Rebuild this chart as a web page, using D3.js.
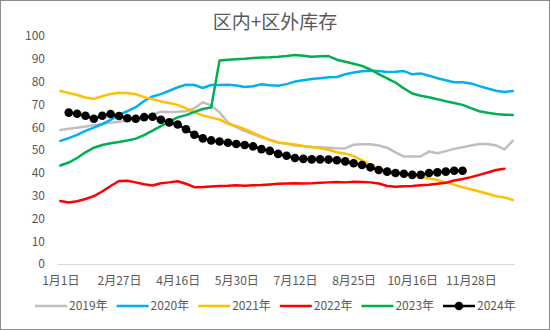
<!DOCTYPE html>
<html>
<head>
<meta charset="utf-8">
<script src="https://cdn.jsdelivr.net/npm/d3@7/dist/d3.min.js"></script>
<style>
  html, body { margin: 0; padding: 0; background: #fff; }
  svg { display: block; }
  text { font-family: "Noto Sans CJK SC", "Noto Sans", sans-serif; }
</style>
</head>
<body>
<svg id="chart" width="550" height="330"></svg>
<script>
const title = "区内+区外库存";
const tickLabels = ["1月1日", "2月27日", "4月16日", "5月30日", "7月12日", "8月25日", "10月16日", "11月28日"];
const tickEvery = 7;
const nCategories = 55;
const yTicks = [0, 10, 20, 30, 40, 50, 60, 70, 80, 90, 100];
const seriesNames = ["2019年", "2020年", "2021年", "2022年", "2023年", "2024年"];
const seriesColors = ["#BFBFBF", "#00B0F0", "#FFC000", "#FF0000", "#00B050", "#000000"];

const s2019 = [58.8,59.3,59.8,60.3,60.9,61.4,62.0,62.4,63.0,63.8,64.5,65.5,66.8,66.7,66.8,67.0,68.3,70.9,69.5,66.5,62.0,60.0,58.3,57.0,55.6,54.5,53.3,52.7,52.0,51.6,51.3,51.2,51.0,50.8,50.7,52.3,52.5,52.5,52.0,51.0,49.0,47.1,47.1,47.2,49.3,48.6,49.5,50.5,51.2,52.0,52.6,52.6,52.0,50.3,54.0];
const s2020 = [54.0,55.2,56.6,58.4,59.8,61.4,63.2,65.5,67.0,68.8,71.5,73.5,74.5,76.0,77.5,78.6,78.5,77.2,78.5,78.5,78.6,78.3,77.6,78.0,78.8,78.4,78.2,78.9,80.0,80.6,81.1,81.5,81.9,82.0,83.2,84.0,84.5,84.8,84.6,84.2,84.3,84.6,83.2,83.6,82.6,81.5,80.6,79.7,79.7,79.2,78.0,77.0,76.0,75.4,75.9];
const s2021 = [75.9,75.0,74.1,73.0,72.4,73.6,74.6,75.1,75.0,74.5,73.2,72.3,71.3,70.6,69.8,68.3,66.5,65.2,64.2,63.4,61.5,60.5,59.2,57.5,56.0,54.3,53.3,52.9,52.4,51.8,51.3,50.8,50.1,49.0,48.4,47.3,45.5,43.5,41.8,40.7,40.2,39.6,39.0,38.3,37.5,36.8,35.8,34.8,33.6,32.8,31.8,30.8,29.7,29.2,28.1];
const s2022 = [27.6,27.0,27.5,28.5,29.8,31.8,34.2,36.4,36.5,35.8,35.0,34.4,35.4,35.8,36.3,35.2,33.7,33.8,34.0,34.2,34.3,34.5,34.3,34.5,34.6,34.9,35.2,35.3,35.4,35.3,35.4,35.6,35.8,36.0,35.8,36.1,36.0,35.8,35.3,34.2,33.9,34.1,34.2,34.5,34.8,35.2,35.6,36.6,37.3,38.1,39.1,40.1,41.2,41.8];
const s2023 = [43.2,44.5,46.5,49.0,51.0,52.2,53.0,53.5,54.2,55.0,56.5,58.5,60.5,62.4,64.3,65.3,66.7,68.0,68.6,89.3,89.6,89.8,90.0,90.3,90.6,90.7,90.9,91.2,91.7,91.3,90.9,91.1,91.2,89.6,88.7,87.8,86.9,85.3,83.3,81.4,79.6,77.0,74.8,73.8,73.1,72.3,71.4,70.6,69.8,68.4,67.0,66.3,65.8,65.5,65.4];
// 2024 starts at the second category
const s2024 = [null,66.4,65.9,65.0,63.7,65.0,65.8,64.9,63.9,63.7,64.4,64.6,63.3,62.1,61.2,59.1,56.7,55.1,54.2,53.7,53.2,52.6,52.2,51.6,50.4,49.6,48.3,47.5,46.5,46.1,45.9,45.9,45.8,45.5,45.0,44.2,43.4,42.4,41.2,40.5,39.9,39.6,39.1,39.1,39.9,40.2,40.5,40.9,40.9];

const seriesValues = [s2019, s2020, s2021, s2022, s2023, s2024];

const svg = d3.select("#chart");

svg.append("rect")
  .attr("x", 0.5).attr("y", 0.5)
  .attr("width", 549).attr("height", 329)
  .attr("fill", "#fff").attr("stroke", "#8c8c8c").attr("stroke-width", 1);

svg.append("text")
  .attr("x", 275).attr("y", 29)
  .attr("text-anchor", "middle")
  .attr("font-size", 19)
  .attr("fill", "#595959")
  .text(title);

const x = d3.scaleLinear().domain([-0.4, nCategories - 0.8]).range([57, 514.5]);
const y = d3.scaleLinear().domain([0, 100]).range([264, 36]);

// Y axis (labels only)
const yAxis = svg.append("g")
  .attr("transform", "translate(47,0)")
  .call(d3.axisLeft(y).tickValues(yTicks).tickSize(0).tickPadding(2));
yAxis.select(".domain").remove();
yAxis.selectAll("text").attr("font-size", 12).attr("fill", "#595959")
  .attr("font-family", "'Noto Sans CJK SC', sans-serif");

// X axis
const tickIdx = tickLabels.map((_, i) => i * tickEvery);
const xAxis = svg.append("g")
  .attr("transform", "translate(0,264)")
  .call(d3.axisBottom(x).tickValues(tickIdx)
    .tickFormat((d, i) => tickLabels[i]).tickSizeOuter(0).tickSize(0).tickPadding(12));
xAxis.select(".domain").attr("stroke", "#D9D9D9").attr("stroke-width", 1);
xAxis.selectAll("text").attr("font-size", 12).attr("fill", "#595959")
  .attr("font-family", "'Noto Sans CJK SC', sans-serif");

const line = d3.line()
  .defined(d => d != null)
  .x((d, i) => x(i))
  .y(d => y(d));

seriesValues.forEach((vals, k) => {
  svg.append("path")
    .datum(vals)
    .attr("fill", "none")
    .attr("stroke", seriesColors[k])
    .attr("stroke-width", 2.5)
    .attr("stroke-linejoin", "round")
    .attr("stroke-linecap", "round")
    .attr("d", line);
});

// markers for 2024
svg.append("g").selectAll("circle")
  .data(s2024.map((v, i) => ({v, i})).filter(d => d.v != null))
  .join("circle")
  .attr("cx", d => x(d.i))
  .attr("cy", d => y(d.v))
  .attr("r", 4.3)
  .attr("fill", "#000");

// Legend
const legend = svg.append("g").attr("transform", "translate(35,306)");
const legendStep = 81.6;
seriesNames.forEach((name, k) => {
  const g = legend.append("g").attr("transform", `translate(${k * legendStep},0)`);
  g.append("line").attr("x1", 0).attr("x2", 32).attr("y1", 0).attr("y2", 0)
    .attr("stroke", seriesColors[k]).attr("stroke-width", 2.5);
  if (k === 5) {
    g.append("circle").attr("cx", 16).attr("cy", 0).attr("r", 4.3).attr("fill", "#000");
  }
  g.append("text").attr("x", 34).attr("y", 0).attr("dy", "0.35em")
    .attr("font-size", 12).attr("fill", "#595959").text(name);
});
</script>
</body>
</html>
